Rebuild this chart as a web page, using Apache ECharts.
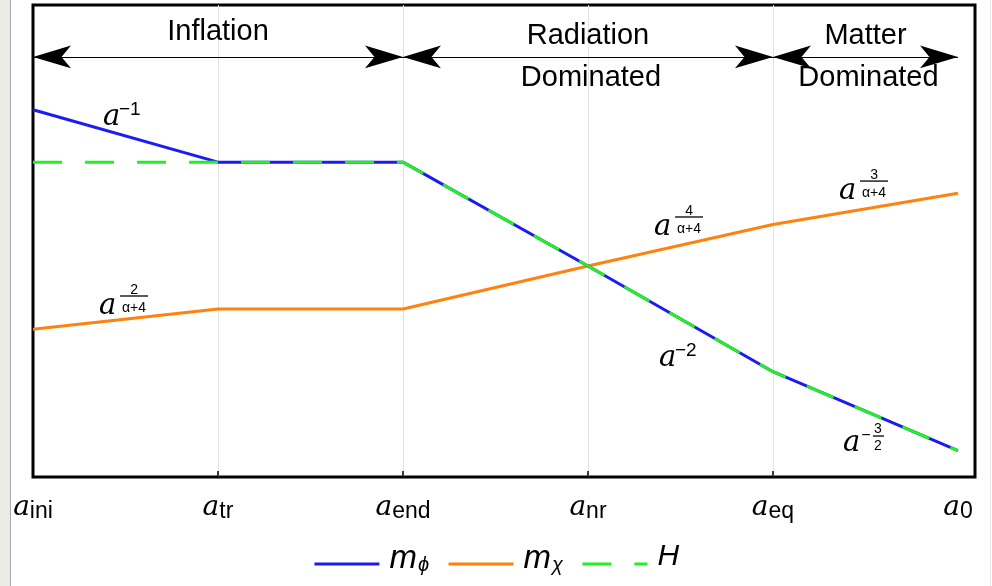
<!DOCTYPE html>
<html><head><meta charset="utf-8">
<script src="https://cdn.jsdelivr.net/npm/echarts@6/dist/echarts.min.js"></script>
<style>html,body{margin:0;padding:0;background:#fff}#c{width:992px;height:586px}</style>
</head><body><div id="c"></div>
<script>
// ---- data ----
const stages = ['ini', 'tr', 'end', 'nr', 'eq', '0'];
const stagePos = [0, 1, 2, 3, 4, 5];
const mPhi = [77.8, 66.7, 66.7, 44.7, 22.3, 5.6];
const mChi = [31.3, 35.6, 35.6, 44.7, 53.5, 60.1];
const hubble = [66.7, 66.7, 66.7, 44.7, 22.3, 5.6];
const eraNames = ['Inflation', 'Radiation', 'Matter'];
const eraSub = ['', 'Dominated', 'Dominated'];
const eraFrom = [0, 2, 4];
const eraTo = [2, 4, 5];
const eraLevel = 89.0;
// scaling annotations: anchor (x, y) in data units, exponent text
const annX = [0.378, 0.357, 3.357, 4.357, 3.384, 4.378];
const annY = [74.15, 34.11, 50.85, 58.46, 23.09, 5.08];
const annKind = ['sup', 'frac', 'frac', 'frac', 'sup', 'negfrac'];
const annNum = ['−1', '2', '4', '3', '−2', '3'];
const annDen = ['', 'α+4', 'α+4', 'α+4', '', '2'];
const legendNames = ['mphi', 'mchi', 'H'];

const C_BLUE = '#1c1cf2', C_ORANGE = '#ff8210', C_GREEN = '#22f022';

const pts = v => stagePos.map((x, i) => [x, v[i]]);

const option = {
  animation: false,
  backgroundColor: '#fff',
  grid: { left: 33, right: 17, top: 5, bottom: 109, show: true, borderColor: '#000', borderWidth: 3, backgroundColor: 'transparent' },
  xAxis: {
    type: 'value', min: 0, max: 5.092, interval: 1,
    axisLine: { show: false },
    axisTick: { show: true, inside: true, length: 6, customValues: [1, 2, 3, 4], lineStyle: { color: '#000', width: 1.5 } },
    splitLine: { show: true, lineStyle: { color: '#e2e2e2', width: 1 } },
    axisLabel: {
      customValues: stagePos, margin: 9,
      formatter: v => '{a|a}{s|' + stages[Math.round(v)] + '}',
      rich: {
        a: { fontFamily: 'DejaVu Serif', fontStyle: 'italic', fontSize: 28, color: '#000', lineHeight: 20, verticalAlign: 'top', padding: [8, 0, 0, 0] },
        s: { fontFamily: 'Liberation Sans', fontSize: 23, color: '#000', lineHeight: 37, verticalAlign: 'bottom' }
      }
    }
  },
  yAxis: { type: 'value', min: 0, max: 100, show: false, splitLine: { show: false } },
  legend: {
    data: legendNames, top: 537, left: 'center',
    itemWidth: 65, itemHeight: 3, itemGap: 18,
    lineStyle: { width: 3 },
    itemStyle: { opacity: 0 },
    formatter: n => n === 'mphi' ? '{m|m}{s|ϕ}' : n === 'mchi' ? '{m|m}{s|χ}' : '{h|H}{z|\u200b}',
    textStyle: {
      padding: [0, 0, 0, 5],
      rich: {
        m: { fontFamily: 'Liberation Sans', fontStyle: 'italic', fontSize: 33, color: '#000', lineHeight: 20, verticalAlign: 'top' },
        h: { fontFamily: 'Liberation Sans', fontStyle: 'italic', fontSize: 30, color: '#000', lineHeight: 20, verticalAlign: 'top' },
        s: { fontFamily: 'Liberation Sans', fontStyle: 'italic', fontSize: 20, color: '#000', lineHeight: 44, verticalAlign: 'middle', padding: [2, 0, 0, 1] },
        z: { fontSize: 10, lineHeight: 44, verticalAlign: 'middle' }
      }
    }
  },
  series: [
    { name: 'mchi', type: 'line', data: pts(mChi), symbol: 'none', z: 2, lineStyle: { color: C_ORANGE, width: 3 }, itemStyle: { color: C_ORANGE } },
    { name: 'mphi', type: 'line', data: pts(mPhi), symbol: 'none', z: 3, lineStyle: { color: C_BLUE, width: 3 }, itemStyle: { color: C_BLUE } },
    { name: 'H', type: 'line', data: pts(hubble), symbol: 'none', z: 4, lineStyle: { color: C_GREEN, width: 3, type: [29, 23] }, itemStyle: { color: C_GREEN } },
    {
      name: 'eras', type: 'line', data: [], z: 5,
      markLine: {
        silent: true, symbol: ['arrow', 'arrow'], symbolSize: [17, 38],
        lineStyle: { color: '#000', width: 1, type: 'solid' },
        itemStyle: { color: '#000' },
        label: { show: false }, emphasis: { disabled: true },
        data: eraFrom.map((f, i) => [{ coord: [f, eraLevel] }, { coord: [eraTo[i], eraLevel] }])
      }
    }
  ]
};

const chart = echarts.init(document.getElementById('c'));
chart.setOption(option);
const toPx = p => chart.convertToPixel({ gridIndex: 0 }, p);

const graphics = [
  { type: 'rect', left: 0, top: 0, z: 100, shape: { width: 10, height: 586 }, style: { fill: '#ecebe5' } },
  { type: 'line', z: 100, shape: { x1: 10.5, y1: 0, x2: 10.5, y2: 586 }, style: { stroke: '#a9a9a9', lineWidth: 1 } },
  { type: 'line', z: 100, shape: { x1: 990.5, y1: 0, x2: 990.5, y2: 586 }, style: { stroke: '#e6e6e6', lineWidth: 1 } }
];

const txt = (t, x, y, font, align) => ({ type: 'text', x, y, style: { text: t, font, fill: '#000', align: align || 'center', verticalAlign: 'middle' } });
const REG = '29px "Liberation Sans"';

eraNames.forEach((n, i) => {
  const a = toPx([eraFrom[i], eraLevel]), b = toPx([eraTo[i], eraLevel]);
  const cx = (a[0] + b[0]) / 2;
  if (eraSub[i]) {
    graphics.push(txt(n, cx, a[1] - 21, REG));
    graphics.push(txt(eraSub[i], cx + 3, a[1] + 21, REG));
  } else {
    graphics.push(txt(n, cx, a[1] - 25, REG));
  }
});

const AF = 'italic 29px "DejaVu Serif"';
annX.forEach((x, i) => {
  const p = toPx([x, annY[i]]);
  const ch = [txt('a', 0, -10, AF, 'left')];
  if (annKind[i] === 'sup') {
    ch.push(txt(annNum[i], 16, -17, '19px "Liberation Sans"', 'left'));
  } else if (annKind[i] === 'frac') {
    ch.push(txt(annNum[i], 35, -26, '14px "Liberation Sans"'));
    ch.push({ type: 'line', shape: { x1: 21, y1: -20, x2: 49, y2: -20 }, style: { stroke: '#000', lineWidth: 1.3 } });
    ch.push(txt(annDen[i], 35, -7.5, '14px "Liberation Sans"'));
  } else {
    ch.push(txt('−', 23, -17, '16px "Liberation Sans"'));
    ch.push(txt(annNum[i], 35, -24, '14px "Liberation Sans"'));
    ch.push({ type: 'line', shape: { x1: 30, y1: -17, x2: 41, y2: -17 }, style: { stroke: '#000', lineWidth: 1.3 } });
    ch.push(txt(annDen[i], 35, -7, '14px "Liberation Sans"'));
  }
  graphics.push({ type: 'group', x: p[0], y: p[1], z: 50, children: ch });
});

chart.setOption({ graphic: graphics });
</script></body></html>
